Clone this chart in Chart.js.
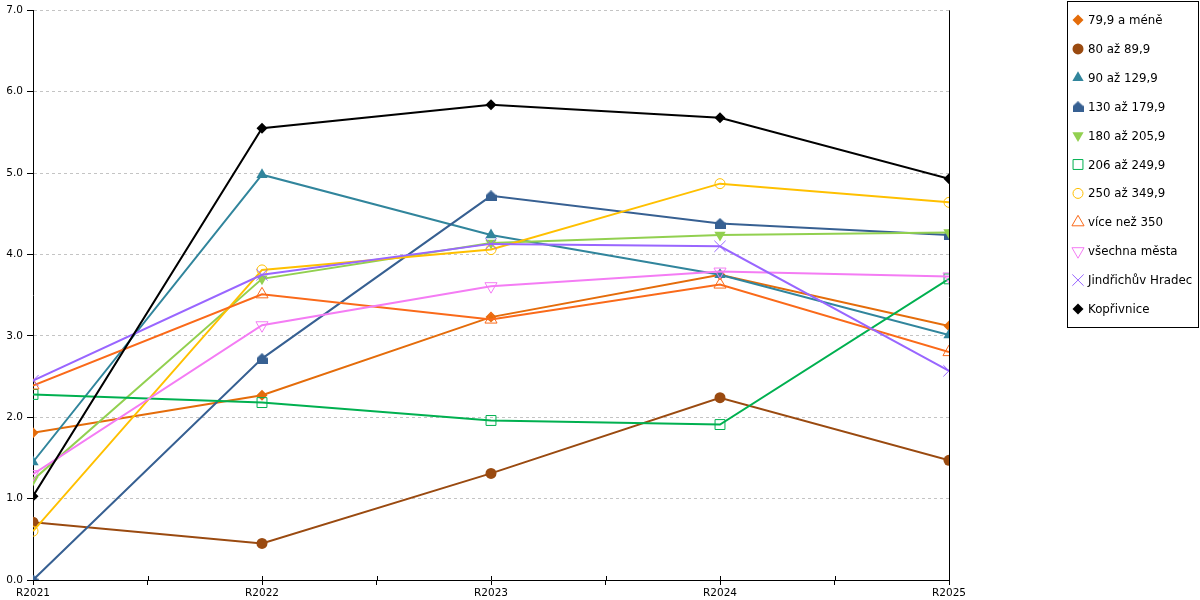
<!DOCTYPE html>
<html>
<head>
<meta charset="utf-8">
<script src="https://cdn.jsdelivr.net/npm/chart.js@4.4.1/dist/chart.umd.min.js"></script>
<style>
  html, body { margin: 0; padding: 0; background: #fff; }
  #wrap { width: 1200px; height: 600px; position: relative; }
</style>
</head>
<body>
<div id="wrap"><canvas id="c" width="1200" height="600"></canvas></div>
<script>
// ---- data ----
const categories = ['R2021', 'R2022', 'R2023', 'R2024', 'R2025'];
const seriesNames = ['79,9 a méně', '80 až 89,9', '90 až 129,9', '130 až 179,9', '180 až 205,9',
  '206 až 249,9', '250 až 349,9', 'více než 350', 'všechna města', 'Jindřichův Hradec', 'Kopřivnice'];
const s79 = [1.81, 2.27, 3.23, 3.75, 3.12];
const s80 = [0.71, 0.45, 1.31, 2.24, 1.47];
const s90 = [1.45, 4.98, 4.24, 3.75, 3.01];
const s130 = [0.00, 2.72, 4.72, 4.38, 4.24];
const s180 = [1.23, 3.70, 4.14, 4.24, 4.27];
const s206 = [2.28, 2.18, 1.96, 1.91, 3.70];
const s250 = [0.60, 3.81, 4.06, 4.87, 4.64];
const s350 = [2.39, 3.51, 3.20, 3.63, 2.80];
const sAll = [1.30, 3.13, 3.61, 3.79, 3.73];
const sJH = [2.45, 3.75, 4.13, 4.10, 2.57];
const sKop = [1.03, 5.55, 5.84, 5.68, 4.93];
const yTicks = [0, 1, 2, 3, 4, 5, 6, 7];

const seriesValues = [s79, s80, s90, s130, s180, s206, s250, s350, sAll, sJH, sKop];

// house-shaped marker
function houseMarker(color) {
  const cv = document.createElement('canvas');
  cv.width = 11; cv.height = 11;
  const g = cv.getContext('2d');
  g.fillStyle = color;
  g.beginPath();
  g.moveTo(5.5, 0); g.lineTo(11, 5); g.lineTo(11, 11); g.lineTo(0, 11); g.lineTo(0, 5);
  g.closePath(); g.fill();
  return cv;
}

const styles = [
  { color: '#E46C0A', pointStyle: 'rectRot', radius: 5.5, fill: true },
  { color: '#9A4A10', pointStyle: 'circle', radius: 5.5, fill: true },
  { color: '#31859C', pointStyle: 'triangle', radius: 6.5, fill: true },
  { color: '#376092', pointStyle: houseMarker('#376092'), radius: 6, fill: true },
  { color: '#92D050', pointStyle: 'triangle', radius: 6.5, fill: true, rotation: 180 },
  { color: '#00B050', pointStyle: 'rect', radius: 7, fill: false },
  { color: '#FFC000', pointStyle: 'circle', radius: 5, fill: false },
  { color: '#FA6A1A', pointStyle: 'triangle', radius: 7, fill: false },
  { color: '#F47CF4', pointStyle: 'triangle', radius: 7, fill: false, rotation: 180 },
  { color: '#9966FF', pointStyle: 'crossRot', radius: 8, fill: false },
  { color: '#000000', pointStyle: 'rectRot', radius: 5.5, fill: true }
];

const n = seriesNames.length;
const datasets = seriesNames.map((name, i) => {
  const st = styles[i];
  return {
    label: name,
    data: seriesValues[i].map((v, k) => ({ x: k, y: v })),
    borderColor: st.color,
    backgroundColor: st.color,
    borderWidth: 2,
    pointStyle: st.pointStyle,
    pointRadius: st.radius,
    pointHoverRadius: st.radius,
    pointRotation: st.rotation || 0,
    pointBackgroundColor: st.fill ? st.color : 'rgba(255,255,255,0)',
    pointBorderColor: st.color,
    pointBorderWidth: st.fill ? 0 : 1,
    tension: 0,
    fill: false,
    order: n - i
  };
});

const FONT = 'DejaVu Sans';

const extras = {
  id: 'extras',
  afterDraw(chart) {
    const ctx = chart.ctx;
    const ca = chart.chartArea;
    const xs = chart.scales.x;
    ctx.save();
    // right vertical line
    ctx.strokeStyle = '#000';
    ctx.lineWidth = 1;
    ctx.beginPath();
    ctx.moveTo(Math.round(ca.right) + 0.5, ca.top);
    ctx.lineTo(Math.round(ca.right) + 0.5, ca.bottom + 5);
    ctx.stroke();
    // crossing ticks above the x-axis
    for (let v = 0.5; v < categories.length - 1; v += 0.5) {
      const px = Math.round(xs.getPixelForValue(v)) + 0.5;
      ctx.beginPath();
      ctx.moveTo(px, ca.bottom - 4);
      ctx.lineTo(px, ca.bottom);
      ctx.stroke();
    }
    // legend
    const lx = 1067.5, ly = 1.5, lw = 131, lh = 326;
    ctx.fillStyle = '#fff';
    ctx.fillRect(lx, ly, lw, lh);
    ctx.strokeStyle = '#000';
    ctx.strokeRect(lx, ly, lw, lh);
    ctx.font = '11.8px "' + FONT + '"';
    ctx.textBaseline = 'middle';
    ctx.textAlign = 'left';
    chart.data.datasets.forEach((ds, i) => {
      const st = styles[i];
      const y = 20 + i * 28.9;
      ctx.save();
      ctx.fillStyle = st.fill ? st.color : 'rgba(255,255,255,0)';
      ctx.strokeStyle = st.color;
      ctx.lineWidth = st.fill ? 0 : 1;
      Chart.helpers.drawPoint(ctx, {
        pointStyle: st.pointStyle,
        rotation: st.rotation || 0,
        radius: st.radius,
        borderWidth: st.fill ? 0 : 1
      }, 1078, y);
      ctx.restore();
      ctx.fillStyle = '#000';
      ctx.fillText(ds.label, 1088, y + 1);
    });
    ctx.restore();
  }
};

new Chart(document.getElementById('c'), {
  type: 'line',
  data: { datasets },
  options: {
    responsive: false,
    animation: false,
    devicePixelRatio: 1,
    layout: { padding: { top: 10, right: 251, left: 0, bottom: 0 } },
    plugins: { legend: { display: false }, tooltip: { enabled: false } },
    scales: {
      x: {
        type: 'linear',
        min: 0,
        max: categories.length - 1,
        afterFit(scale) { scale.height = 20; },
        afterBuildTicks(scale) {
          const t = [];
          for (let v = 0; v <= categories.length - 1; v += 0.5) t.push({ value: v });
          scale.ticks = t;
        },
        ticks: {
          autoSkip: false,
          maxRotation: 0,
          padding: 2,
          color: '#000',
          font: { family: FONT, size: 10.5 },
          callback: (v) => Number.isInteger(v) ? categories[v] : ''
        },
        grid: { display: true, drawOnChartArea: false, color: '#000', tickColor: '#000', tickLength: 5 },
        border: { display: true, color: '#000', width: 1 }
      },
      y: {
        min: yTicks[0],
        max: yTicks[yTicks.length - 1],
        afterFit(scale) { scale.width = 33; },
        afterBuildTicks(scale) { scale.ticks = yTicks.map(v => ({ value: v })); },
        ticks: {
          padding: 4,
          color: '#000',
          font: { family: FONT, size: 10.5 },
          callback: (v) => Number(v).toFixed(1)
        },
        grid: { color: '#C4C4C4', tickColor: '#000', tickLength: 6, lineWidth: 1 },
        border: { display: true, color: '#000', width: 1, dash: [3, 3] }
      }
    }
  },
  plugins: [extras]
});
</script>
</body>
</html>
